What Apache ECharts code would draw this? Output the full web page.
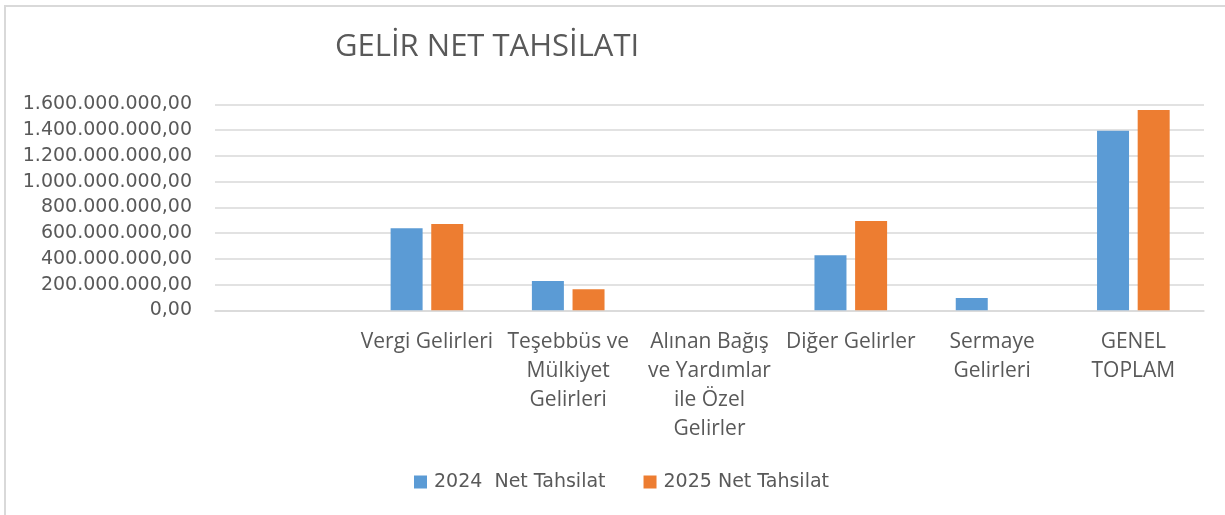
<!DOCTYPE html>
<html>
<head>
<meta charset="utf-8">
<script src="https://cdn.jsdelivr.net/npm/echarts@6/dist/echarts.min.js"></script>
<style>
  body { margin: 0; background: #fff; }
  #frame { position: absolute; left: 4px; top: 5px; width: 1221px; height: 510px;
           border-left: 2px solid #d9d9d9; border-top: 2px solid #d9d9d9; box-sizing: border-box; }
  #chart { position: absolute; left: 0; top: 0; width: 1225px; height: 515px; }
</style>
</head>
<body>
<div id="frame"></div>
<div id="chart"></div>
<script>
const categories = [
  '',
  'Vergi Gelirleri',
  'Teşebbüs ve\nMülkiyet\nGelirleri',
  'Alınan Bağış\nve Yardımlar\nile Özel\nGelirler',
  'Diğer Gelirler',
  'Sermaye\nGelirleri',
  'GENEL\nTOPLAM'
]
const seriesNames = ['2024  Net Tahsilat', '2025 Net Tahsilat']
const tahsilat2024 = [null, 637000000, 228000000, 0, 428000000, 96000000, 1396000000]
const tahsilat2025 = [null, 671000000, 163000000, 0, 694000000, 0, 1557000000]

const yMin = 0
const yMax = 1600000000
const yStep = 200000000

// 1600000000 -> 1.600.000.000,00
const trFormat = (v) => {
  const s = Math.round(v).toString().replace(/\B(?=(\d{3})+(?!\d))/g, '.')
  return s + ',00'
}

const chart = echarts.init(document.getElementById('chart'), null, { renderer: 'canvas' })

const option = {
  backgroundColor: 'transparent',
  animation: false,
  title: {
    text: 'GELİR NET TAHSİLATI',
    left: 335,
    top: 27,
    padding: 0,
    textStyle: {
      fontFamily: 'Open Sans',
      fontSize: 31,
      fontWeight: 'normal',
      color: '#595959',
      lineHeight: 40
    }
  },
  legend: {
    left: 414,
    top: 472,
    padding: 0,
    itemWidth: 13,
    itemHeight: 13,
    itemGap: 38,
    icon: 'rect',
    textStyle: {
      fontFamily: 'DejaVu Sans',
      fontSize: 19,
      color: '#595959',
      lineHeight: 20,
      padding: [0, 0, 0, 2]
    },
    data: seriesNames
  },
  grid: {
    left: 215,
    right: 21,
    top: 104.5,
    bottom: 204.7,
    containLabel: false
  },
  xAxis: {
    type: 'category',
    data: categories,
    axisLine: { show: true, lineStyle: { color: '#d9d9d9', width: 1.5 } },
    axisTick: { show: false },
    axisLabel: {
      interval: 0,
      margin: 17,
      fontFamily: 'Open Sans',
      fontSize: 21,
      lineHeight: 29,
      color: '#595959'
    }
  },
  yAxis: {
    type: 'value',
    min: yMin,
    max: yMax,
    interval: yStep,
    axisLine: { show: false },
    axisTick: { show: false },
    splitLine: { lineStyle: { color: '#d9d9d9', width: 1.5 } },
    axisLabel: {
      margin: 23,
      fontFamily: 'DejaVu Sans',
      fontSize: 19,
      color: '#595959',
      formatter: trFormat
    }
  },
  series: [
    {
      name: seriesNames[0],
      type: 'bar',
      data: tahsilat2024,
      barWidth: 32,
      barGap: '27%',
      itemStyle: { color: '#5B9BD5' }
    },
    {
      name: seriesNames[1],
      type: 'bar',
      data: tahsilat2025,
      barWidth: 32,
      itemStyle: { color: '#ED7D31' }
    }
  ]
}

chart.setOption(option)
</script>
</body>
</html>
